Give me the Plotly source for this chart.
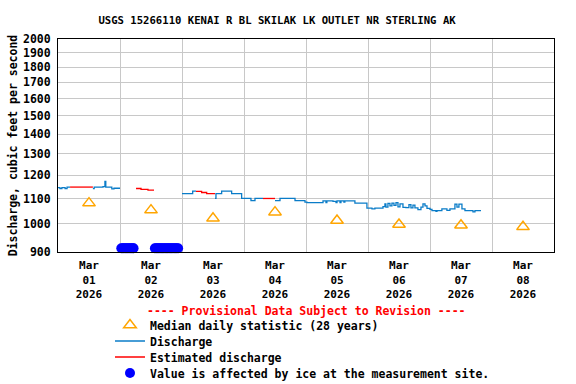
import math
import plotly.graph_objects as go

FONT = "DejaVu Sans Mono"

TITLE = "USGS 15266110 KENAI R BL SKILAK LK OUTLET NR STERLING AK"
Y_TITLE = "Discharge, cubic feet per second"
NOTE = "---- Provisional Data Subject to Revision ----"

# Median daily statistic (28 years), plotted at noon of each day
median_times = ["2026-03-01 12:00", "2026-03-02 12:00", "2026-03-03 12:00", "2026-03-04 12:00",
                "2026-03-05 12:00", "2026-03-06 12:00", "2026-03-07 12:00", "2026-03-08 12:00"]
median_vals = [1081, 1053, 1021, 1045, 1013, 998, 995, 989]

# Discharge (provisional), step series; None marks a gap
dis_times = [
    "2026-03-01 00:00", "2026-03-01 00:45", "2026-03-01 01:30", "2026-03-01 02:45", "2026-03-01 03:30",
    "2026-03-01 04:40", "2026-03-01 04:41",
    "2026-03-01 13:30", "2026-03-01 14:00", "2026-03-01 17:25", "2026-03-01 18:10", "2026-03-01 18:30",
    "2026-03-01 20:50", "2026-03-01 21:40", "2026-03-02 00:00", "2026-03-02 00:01",
    "2026-03-03 00:00", "2026-03-03 04:08", "2026-03-03 05:25", "2026-03-03 05:26",
    "2026-03-03 12:46", "2026-03-03 13:09", "2026-03-03 15:21", "2026-03-03 19:13", "2026-03-03 23:05",
    "2026-03-04 02:42", "2026-03-04 04:15", "2026-03-04 07:21", "2026-03-04 07:22",
    "2026-03-04 12:00", "2026-03-04 13:56", "2026-03-04 19:45", "2026-03-04 23:36",
    "2026-03-05 00:22", "2026-03-05 06:35", "2026-03-05 07:44", "2026-03-05 08:05", "2026-03-05 10:27",
    "2026-03-05 11:37", "2026-03-05 12:00", "2026-03-05 13:10", "2026-03-05 13:32", "2026-03-05 14:40",
    "2026-03-05 15:03", "2026-03-05 16:58", "2026-03-05 18:56", "2026-03-05 20:53", "2026-03-05 23:35",
    "2026-03-06 01:32", "2026-03-06 02:40", "2026-03-06 05:48", "2026-03-06 06:33", "2026-03-06 06:56",
    "2026-03-06 07:43", "2026-03-06 08:30", "2026-03-06 09:16", "2026-03-06 10:03", "2026-03-06 10:50",
    "2026-03-06 11:36", "2026-03-06 12:23", "2026-03-06 13:32", "2026-03-06 14:41", "2026-03-06 15:51",
    "2026-03-06 16:37", "2026-03-06 17:24", "2026-03-06 18:10", "2026-03-06 19:20", "2026-03-06 20:30",
    "2026-03-06 21:17", "2026-03-06 22:04", "2026-03-06 22:50", "2026-03-07 00:00",
    "2026-03-07 00:46", "2026-03-07 02:19", "2026-03-07 02:42", "2026-03-07 04:36", "2026-03-07 06:33",
    "2026-03-07 07:43", "2026-03-07 09:39", "2026-03-07 10:26", "2026-03-07 11:12", "2026-03-07 12:22",
    "2026-03-07 13:32", "2026-03-07 16:38", "2026-03-07 17:24", "2026-03-07 19:44",
]
dis_vals = [
    1146, 1141, 1146, 1141, 1148,
    1148, None,
    1141, 1148, 1150, 1173, 1148,
    1140, 1143, 1143, None,
    1120, 1131, 1131, None,
    1100, 1120, 1131, 1120, 1100,
    1091, 1100, 1100, None,
    1091, 1100, 1091, 1085,
    1083, 1090, 1083, 1090, 1088,
    1083, 1090, 1083, 1090, 1085,
    1090, 1090, 1081, 1081, 1061,
    1058, 1061, 1067, 1078, 1065,
    1080, 1070, 1081, 1072, 1083,
    1066, 1078, 1064, 1063, 1075,
    1062, 1073, 1062, 1055, 1065,
    1078, 1070, 1060, 1056,
    1051, 1048, 1051, 1058, 1052,
    1058, 1077, 1065, 1077, 1058,
    1051, 1046, 1051, 1051,
]

# Estimated discharge (red)
est_times = [
    "2026-03-01 04:40", "2026-03-01 13:30", "2026-03-01 13:31",
    "2026-03-02 06:12", "2026-03-02 08:08", "2026-03-02 10:50", "2026-03-02 13:10", "2026-03-02 13:11",
    "2026-03-03 05:25", "2026-03-03 07:36", "2026-03-03 09:33", "2026-03-03 12:46", "2026-03-03 12:47",
    "2026-03-04 07:21", "2026-03-04 12:00",
]
est_vals = [
    1148, 1148, None,
    1142, 1138, 1135, 1135, None,
    1130, 1125, 1120, 1120, None,
    1100, 1100,
]

# Ice-affected values, drawn along the bottom of the plot
ice_times = [
    "2026-03-02 00:30", "2026-03-02 01:00", "2026-03-02 01:30", "2026-03-02 02:00", "2026-03-02 02:30",
    "2026-03-02 03:00", "2026-03-02 03:30", "2026-03-02 04:00", "2026-03-02 04:30", "2026-03-02 05:00",
    "2026-03-02 05:15",
    "2026-03-02 13:30", "2026-03-02 14:00", "2026-03-02 14:30", "2026-03-02 15:00", "2026-03-02 15:30",
    "2026-03-02 16:00", "2026-03-02 16:30", "2026-03-02 17:00", "2026-03-02 17:30", "2026-03-02 18:00",
    "2026-03-02 18:30", "2026-03-02 19:00", "2026-03-02 19:30", "2026-03-02 20:00", "2026-03-02 20:30",
    "2026-03-02 21:00", "2026-03-02 21:30", "2026-03-02 22:00", "2026-03-02 22:30",
]
ice_vals = [913] * len(ice_times)

y_ticks = [900, 1000, 1100, 1200, 1300, 1400, 1500, 1600, 1700, 1800, 1900, 2000]

fig = go.Figure()
fig.add_trace(go.Scatter(
    x=median_times, y=median_vals, mode="markers", name="Median daily statistic (28 years)",
    marker=dict(symbol="triangle-up-open", size=11, color="#FFA500", line=dict(width=1.5)),
    cliponaxis=False, legend="legend",
))
fig.add_trace(go.Scatter(
    x=dis_times, y=dis_vals, mode="lines", name="Discharge", connectgaps=False,
    line=dict(color="#0A7CC8", width=1.3, shape="hv"), legend="legend2",
))
fig.add_trace(go.Scatter(
    x=est_times, y=est_vals, mode="lines", name="Estimated discharge", connectgaps=False,
    line=dict(color="#FF0000", width=1.3, shape="hv"), legend="legend3",
))
fig.add_trace(go.Scatter(
    x=ice_times, y=ice_vals, mode="markers", name="Value is affected by ice at the measurement site.",
    marker=dict(symbol="circle", size=10, color="#0000FF"), cliponaxis=False, legend="legend4",
))

legend_font = dict(family=FONT, size=11.5, color="black", weight="bold")


def legend_box(row_px):
    # row_px: vertical centre of the legend row in pixels from the top of the page
    return dict(x=0.1048, y=(252 - row_px) / 213, xanchor="left", yanchor="middle",
                bgcolor="rgba(0,0,0,0)", itemwidth=30, font=legend_font)


fig.update_layout(
    width=576, height=384,
    margin=dict(l=58, r=22, t=39, b=132, autoexpand=False),
    paper_bgcolor="white", plot_bgcolor="white",
    font=dict(family=FONT, size=11.5, color="black", weight="bold"),
    title=dict(text=TITLE, x=0.481, xref="container", xanchor="center",
               y=0.948, yref="container", yanchor="middle", automargin=False,
               font=dict(family=FONT, size=10.6, color="black", weight="bold")),
    showlegend=True,
    legend=legend_box(325),
    legend2=legend_box(341),
    legend3=legend_box(357),
    legend4=legend_box(373),
    annotations=[dict(text=NOTE, x=0.5, y=-0.277,
                      xref="paper", yref="paper", xanchor="center", yanchor="middle",
                      showarrow=False,
                      font=dict(family=FONT, size=11.5, color="#FF0000", weight="bold"))],
)

fig.update_xaxes(
    type="date", range=["2026-03-01 00:00", "2026-03-09 00:00"],
    tick0="2026-03-01", dtick=86400000, ticklabelmode="period",
    tickformat="%b<br>%d<br>%Y", ticks="", automargin=False, ticklabelstandoff=3,
    showgrid=True, gridcolor="#C8C8C8", gridwidth=1,
    showline=True, linecolor="black", linewidth=1, mirror=True,
    zeroline=False, tickfont=dict(family=FONT, size=11, weight="bold"),
)
fig.update_yaxes(
    type="log", range=[math.log10(900), math.log10(2000)],
    tickmode="array", tickvals=y_ticks, ticktext=[str(v) for v in y_ticks], ticks="",
    automargin=False, ticklabelstandoff=4,
    showgrid=True, gridcolor="#C8C8C8", gridwidth=1,
    showline=True, linecolor="black", linewidth=1, mirror=True,
    title=dict(text=Y_TITLE, standoff=2, font=dict(family=FONT, size=11.5, weight="bold")),
    zeroline=False,
)

fig.write_html("out.html", config={"displayModeBar": False},
               post_script="document.body.style.margin='0';")
